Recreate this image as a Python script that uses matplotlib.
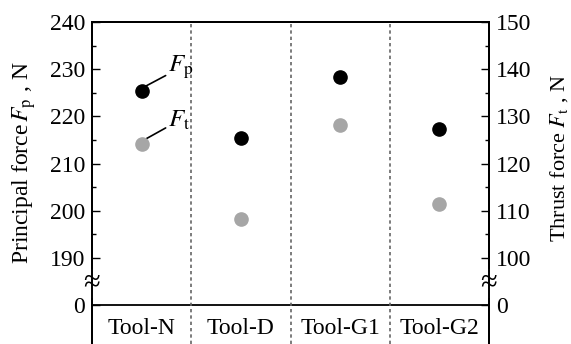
import numpy as np
import matplotlib
matplotlib.use("Agg")
import matplotlib.pyplot as plt
from matplotlib.ticker import FixedLocator
import matplotlib.transforms as mtransforms

plt.rcParams['font.family'] = ['Liberation Serif', 'DejaVu Serif']
plt.rcParams['mathtext.fontset'] = 'stix'

# data
tools = ['Tool-N', 'Tool-D', 'Tool-G1', 'Tool-G2']
fp = [225.4, 215.4, 228.3, 217.3]   # principal force, N (left axis)
ft = [124.2, 108.3, 128.2, 111.4]   # thrust force, N (right axis)

left_ticks = [180, 190, 200, 210, 220, 230, 240]
left_labels = ['0', '190', '200', '210', '220', '230', '240']
right_ticks = [90, 100, 110, 120, 130, 140, 150]
right_labels = ['0', '100', '110', '120', '130', '140', '150']

fig = plt.figure(figsize=(5.71, 3.44), dpi=100)
ax = fig.add_axes([92/571, 0, 397/571, 1 - 22/344])
ax2 = ax.twinx()

x = np.arange(len(tools)) + 0.5
ax.set_xlim(0, len(tools))
ax.set_ylim(171.8, 240)
ax2.set_ylim(81.8, 150)

ax.plot(x, fp, 'o', color='black', ms=9.5, zorder=5)
ax2.plot(x, ft, 'o', color='#a6a6a6', ms=9.5, zorder=5)

# category row
ax.axhline(180, color='black', lw=1.3)
for i in range(1, len(tools)):
    ax.axvline(i, color='#666666', lw=1.2, ls=(0, (2, 1.8)))
for xi, name in zip(x, tools):
    ax.text(xi, 175.0, name, ha='center', va='center', fontsize=17)

ax.yaxis.set_major_locator(FixedLocator(left_ticks))
ax.set_yticklabels(left_labels)
ax.yaxis.set_minor_locator(FixedLocator([195, 205, 215, 225, 235]))
ax2.yaxis.set_major_locator(FixedLocator(right_ticks))
ax2.set_yticklabels(right_labels)
ax2.yaxis.set_minor_locator(FixedLocator([105, 115, 125, 135, 145]))

for a in (ax, ax2):
    a.tick_params(axis='y', which='major', direction='in', length=6, width=1,
                  labelsize=17, pad=5)
    a.tick_params(axis='y', which='minor', direction='in', length=3, width=1)
    a.spines['bottom'].set_visible(False)
    for s in a.spines.values():
        s.set_linewidth(1.4)
ax.set_xticks([])
ax2.set_xticks([])

ax.set_ylabel(r'Principal force$\,F_{\mathrm{p}}$ , N', fontsize=17)
ax.yaxis.set_label_coords(-0.136, 0.562)
ax2.set_ylabel(r'Thrust force $F_{\mathrm{t}}$ , N', fontsize=16)
ax2.yaxis.set_label_coords(1.150, 0.578)

# axis break marks
tr = mtransforms.blended_transform_factory(ax.transAxes, ax.transData)
for xb in (0, 1):
    ax.text(xb, 184.7, '≈', transform=tr, ha='center', va='center', fontsize=22,
            bbox=dict(boxstyle='square,pad=0', fc='white', ec='none'), zorder=10, clip_on=False)

# series labels
ax.annotate(r'$F_{\mathrm{p}}$', xy=(x[0] + 0.04, fp[0] + 1.0), xytext=(x[0] + 0.27, fp[0] + 5.0),
            fontsize=18, ha='left', va='center',
            arrowprops=dict(arrowstyle='-', color='black', lw=1.2, shrinkA=0, shrinkB=0))
ax2.annotate(r'$F_{\mathrm{t}}$', xy=(x[0] + 0.04, ft[0] + 1.0), xytext=(x[0] + 0.27, ft[0] + 5.0),
             fontsize=18, ha='left', va='center',
             arrowprops=dict(arrowstyle='-', color='black', lw=1.2, shrinkA=0, shrinkB=0))

fig.savefig('out.png', dpi=100)
